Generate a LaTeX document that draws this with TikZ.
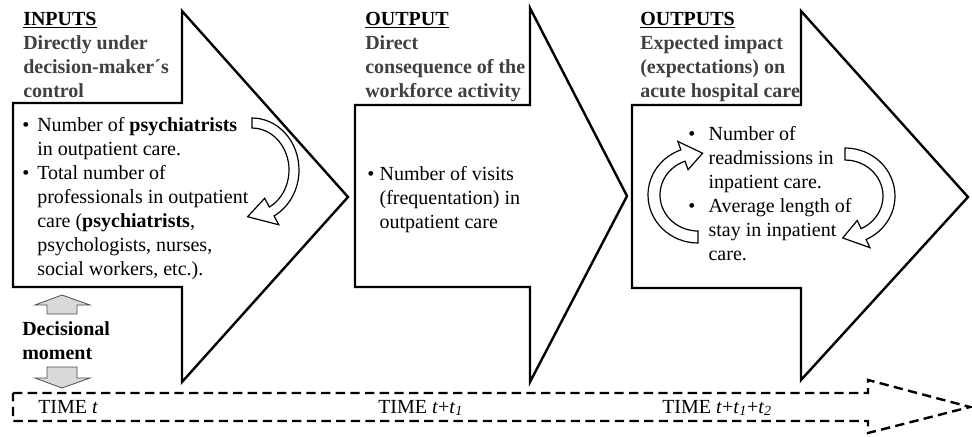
\documentclass[tikz,border=0pt]{standalone}
\usepackage{fontspec}
\setmainfont{Liberation Serif}
\usetikzlibrary{calc, positioning}

\begin{document}
\begin{tikzpicture}
		[x=0.75pt, y=-0.75pt,
		bigarrow/.style={draw, line width=1.8pt, fill=white},
		timearrow/.style={draw, line width=1.8pt, dash pattern=on 7pt off 4pt},
		bendarrow/.style={draw, line width=0.9pt, fill=white},
		decarrow/.style={draw=black!70, line width=0.6pt, fill=black!15},
		txt/.style={anchor=base west, inner sep=0pt, font=\fontsize{15}{18}\selectfont},
		head/.style={txt, font=\fontsize{15}{18}\selectfont\bfseries, text=black!75}]
		\useasboundingbox (0,0) rectangle (972,436);
		% shapes %
		\draw[bigarrow] (13,103) -- (182,103) -- (182,11) -- (348,197) -- (182,382) -- (182,287) -- (13,287) -- cycle;
		\draw[bigarrow] (355,105) -- (530,105) -- (530,8) -- (627,196) -- (530,382) -- (530,287) -- (355,287) -- cycle;
		\draw[bigarrow] (632,105) -- (801,105) -- (801,11) -- (968,197) -- (801,380) -- (801,288) -- (632,288) -- cycle;
		\draw[timearrow] (13,393) -- (868,393) -- (868,380) -- (970,407) -- (868,433) -- (868,421) -- (13,421) -- cycle;
		% bent arrows %
		\draw[bendarrow] (252,170) ++(-90:47 and 52) arc[start angle=-90, end angle=62, x radius=47, y radius=52]
			-- ($(252,170)+(62:57 and 62)$) -- ($(252,170)+(96:42 and 47)$) -- ($(252,170)+(62:27 and 32)$)
			-- ($(252,170)+(62:37 and 42)$) arc[start angle=62, end angle=-90, x radius=37, y radius=42] -- cycle;
		\draw[bendarrow] (845,196) ++(-90:50 and 48) arc[start angle=-90, end angle=65, x radius=50, y radius=48]
			-- ($(845,196)+(65:59 and 57)$) -- ($(845,196)+(93:44 and 42)$) -- ($(845,196)+(65:29 and 27)$)
			-- ($(845,196)+(65:38 and 36)$) arc[start angle=65, end angle=-90, x radius=38, y radius=36] -- cycle;
		\draw[bendarrow] (698,195) ++(90:50 and 48) arc[start angle=90, end angle=250, x radius=50, y radius=48]
			-- ($(698,195)+(250:59 and 57)$) -- ($(698,195)+(276:44 and 42)$) -- ($(698,195)+(250:29 and 27)$)
			-- ($(698,195)+(250:38 and 36)$) arc[start angle=250, end angle=90, x radius=38, y radius=36] -- cycle;
		% decisional moment %
		\draw[decarrow] (62,295) -- (90,305) -- (77,305) -- (77,314) -- (47,314) -- (47,305) -- (35,305) -- cycle;
		\draw[decarrow] (47,367) -- (77,367) -- (77,378) -- (90,378) -- (62,388) -- (35,378) -- (47,378) -- cycle;
		% nodes %
		\node[head] (inhead) at (23,25) {\begin{tabular}[t]{@{}l@{}}\textcolor{black}{\underline{INPUTS}}\\Directly under\\decision-maker´s\\control\end{tabular}};
		\node[txt] (inbody) at (22,131) {\begin{tabular}[t]{@{}l@{\hspace{6pt}}l@{}}
			\textbullet & Number of \textbf{psychiatrists}\\
			& in outpatient care.\\
			\textbullet & Total number of\\
			& professionals in outpatient\\
			& care (\textbf{psychiatrists},\\
			& psychologists, nurses,\\
			& social workers, etc.).\end{tabular}};
		\node[head] (outhead) at (365,25) {\begin{tabular}[t]{@{}l@{}}\textcolor{black}{\underline{OUTPUT}}\\Direct\\consequence of the\\workforce activity\end{tabular}};
		\node[txt] (outbody) at (367,180) {\begin{tabular}[t]{@{}l@{\hspace{4pt}}l@{}}
			\textbullet & Number of visits\\
			& (frequentation) in\\
			& outpatient care\end{tabular}};
		\node[head] (impacthead) at (640,25) {\begin{tabular}[t]{@{}l@{}}\textcolor{black}{\underline{OUTPUTS}}\\Expected impact\\(expectations) on\\acute hospital care\end{tabular}};
		\node[txt] (impactbody) at (688,140) {\begin{tabular}[t]{@{}l@{\hspace{10pt}}l@{}}
			\textbullet & Number of\\
			& readmissions in\\
			& inpatient care.\\
			\textbullet & Average length of\\
			& stay in inpatient\\
			& care.\end{tabular}};
		\node[txt, font=\fontsize{15}{18}\selectfont\bfseries] (decision) at (22,335) {\begin{tabular}[t]{@{}l@{}}Decisional\\moment\end{tabular}};
		\node[txt] (timezero) at (38,413) {TIME \textit{t}};
		\node[txt] (timeone) at (378,413) {TIME \textit{t}+\textit{t}\textsubscript{\textit{1}}};
		\node[txt] (timetwo) at (662,413) {TIME \textit{t}+\textit{t}\textsubscript{\textit{1}}+\textit{t}\textsubscript{\textit{2}}};
		\end{tikzpicture}
\end{document}
